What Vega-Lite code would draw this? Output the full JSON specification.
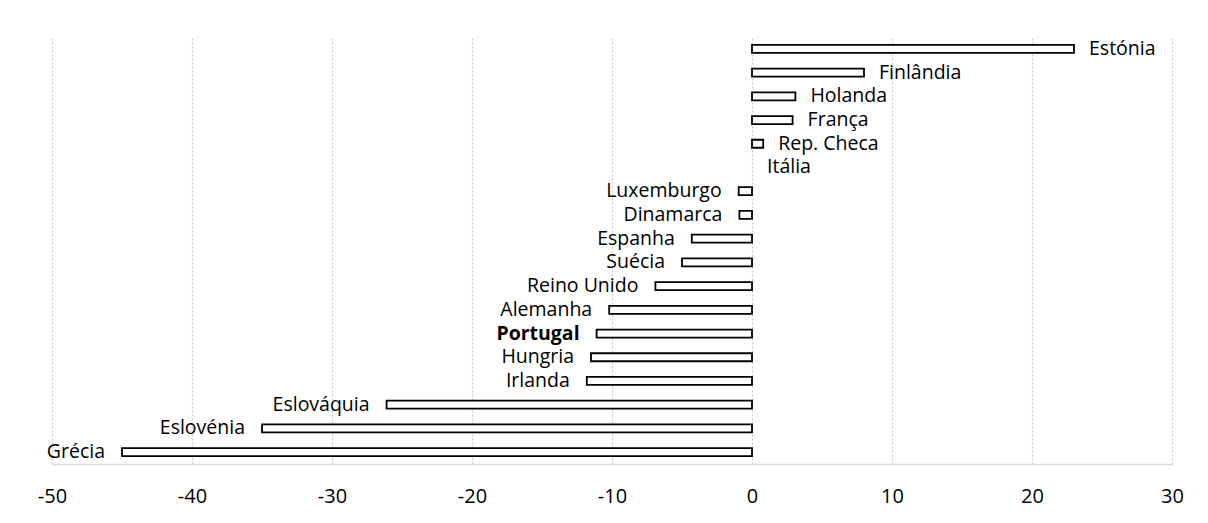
{
  "$schema": "https://vega.github.io/schema/vega-lite/v6.json",
  "autosize": {"type": "none"},
  "padding": {"left": 52, "top": 37, "right": 36, "bottom": 59},
  "width": 1120,
  "height": 427,
  "background": "white",
  "config": {
    "view": {"stroke": null},
    "font": "Open Sans"
  },
  "data": {
    "values": [
      {"pais": "Estónia", "valor": 23.0, "ordem": 1, "destaque": false},
      {"pais": "Finlândia", "valor": 8.0, "ordem": 2, "destaque": false},
      {"pais": "Holanda", "valor": 3.1, "ordem": 3, "destaque": false},
      {"pais": "França", "valor": 2.9, "ordem": 4, "destaque": false},
      {"pais": "Rep. Checa", "valor": 0.8, "ordem": 5, "destaque": false},
      {"pais": "Itália", "valor": 0, "ordem": 6, "destaque": false},
      {"pais": "Luxemburgo", "valor": -0.95, "ordem": 7, "destaque": false},
      {"pais": "Dinamarca", "valor": -0.9, "ordem": 8, "destaque": false},
      {"pais": "Espanha", "valor": -4.3, "ordem": 9, "destaque": false},
      {"pais": "Suécia", "valor": -5.0, "ordem": 10, "destaque": false},
      {"pais": "Reino Unido", "valor": -6.9, "ordem": 11, "destaque": false},
      {"pais": "Alemanha", "valor": -10.2, "ordem": 12, "destaque": false},
      {"pais": "Portugal", "valor": -11.1, "ordem": 13, "destaque": true},
      {"pais": "Hungria", "valor": -11.5, "ordem": 14, "destaque": false},
      {"pais": "Irlanda", "valor": -11.8, "ordem": 15, "destaque": false},
      {"pais": "Eslováquia", "valor": -26.1, "ordem": 16, "destaque": false},
      {"pais": "Eslovénia", "valor": -35.0, "ordem": 17, "destaque": false},
      {"pais": "Grécia", "valor": -45.0, "ordem": 18, "destaque": false}
    ]
  },
  "encoding": {
    "y": {
      "field": "pais",
      "type": "nominal",
      "sort": {"field": "ordem", "op": "min"},
      "axis": null,
      "scale": {"paddingInner": 0, "paddingOuter": 0}
    },
    "x": {
      "field": "valor",
      "type": "quantitative",
      "scale": {"domain": [-50, 30], "nice": false, "zero": false},
      "axis": {
        "title": null,
        "values": [-50, -40, -30, -20, -10, 0, 10, 20, 30],
        "labelExpr": "toString(datum.value)",
        "grid": true,
        "gridColor": "#c8c8c8",
        "gridDash": [2, 2],
        "gridWidth": 1.2,
        "domain": true,
        "domainColor": "#d9d9d9",
        "domainWidth": 1.5,
        "ticks": false,
        "tickSize": 0,
        "labelFontSize": 20,
        "labelFont": "Open Sans",
        "labelColor": "#000000",
        "labelBaseline": "middle",
        "labelPadding": 32,
        "labelFlush": false
      }
    }
  },
  "layer": [
    {
      "transform": [{"filter": "datum.valor != 0"}],
      "mark": {"type": "bar", "size": 8, "fill": "white", "stroke": "black", "strokeWidth": 1.8},
      "encoding": {"x2": {"datum": 0}}
    },
    {
      "transform": [{"filter": "datum.valor >= 0"}],
      "mark": {"type": "text", "align": "left", "baseline": "middle", "dx": 15, "fontSize": 19.5, "color": "black"},
      "encoding": {"text": {"field": "pais"}}
    },
    {
      "transform": [{"filter": "datum.valor < 0 && !datum.destaque"}],
      "mark": {"type": "text", "align": "right", "baseline": "middle", "dx": -17, "fontSize": 19.5, "color": "black"},
      "encoding": {"text": {"field": "pais"}}
    },
    {
      "transform": [{"filter": "datum.valor < 0 && datum.destaque"}],
      "mark": {"type": "text", "align": "right", "baseline": "middle", "dx": -17, "fontSize": 19.5, "fontWeight": "bold", "color": "black"},
      "encoding": {"text": {"field": "pais"}}
    }
  ]
}
